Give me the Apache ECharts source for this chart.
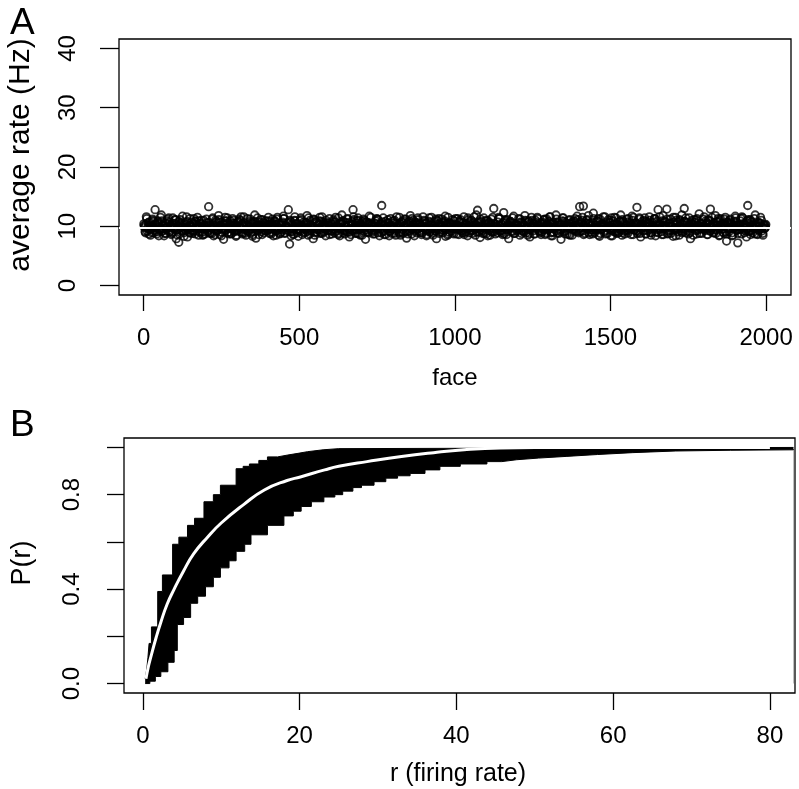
<!DOCTYPE html>
<html><head><meta charset="utf-8">
<script src="https://cdn.jsdelivr.net/npm/echarts@6/dist/echarts.min.js"></script>
<style>html,body{margin:0;padding:0;background:#fff}#c{width:799px;height:789px}</style>
</head><body><div id="c"></div>
<script>
// ---------- Panel A data (average rate per face) ----------
// faces 1,5,9,... (every 4th id, starting at 1)
const rateSetA = [
10.4,9.1,11.6,9.8,8.7,10.2,9.5,11.2,8.9,12.8,9.9,10.7,8.4,9.6,11.9,9.3,10.1,8.8,9.7,10.9,11.4,9.2,8.6,10.5,9.9,11.1,7.9,9.5,7.3,10.3,9.8,11.7,8.9,9.4,10.6,8.2,9.7,11.3,10.0,8.8,9.1,10.8,9.6,11.5,8.5,9.9,10.4,9.0,11.0,8.7,
9.6,10.2,13.3,8.9,9.8,11.2,8.4,10.6,9.3,9.9,11.8,8.6,10.1,9.5,7.8,10.9,9.7,11.4,9.0,10.3,8.8,9.6,11.0,10.5,8.3,9.2,10.8,9.9,11.6,8.7,10.0,9.4,8.5,11.3,9.8,10.4,8.9,9.1,10.7,11.9,8.0,9.7,10.2,9.5,11.1,8.6,10.6,9.3,9.9,10.1,
11.5,8.8,9.6,10.3,8.4,10.9,9.2,11.2,9.8,8.7,10.5,9.4,11.7,8.9,10.0,9.7,12.8,7.0,10.8,9.1,8.6,11.0,9.9,10.4,8.3,9.5,11.4,10.1,8.9,9.8,10.6,11.8,8.5,9.3,10.2,9.6,7.9,11.1,10.7,9.0,9.4,10.9,8.8,11.6,9.7,10.3,8.4,9.9,10.5,11.3,
9.2,8.7,10.8,9.5,11.5,10.0,8.6,9.8,10.4,11.9,8.9,9.3,10.6,9.1,11.2,8.2,9.7,10.3,12.8,9.6,8.8,10.9,11.4,9.4,8.5,10.1,9.9,11.0,7.8,10.7,9.0,11.7,9.6,10.2,8.7,9.3,10.5,11.3,8.9,9.8,10.4,13.5,9.1,8.6,10.8,9.7,11.1,8.4,10.0,9.5,
10.9,8.8,9.6,11.6,10.2,9.0,8.5,10.7,9.4,11.2,9.9,8.0,10.4,9.3,11.8,8.7,10.0,9.7,10.6,8.9,11.4,9.2,10.3,8.6,9.8,11.0,10.5,8.4,9.5,10.8,9.1,11.5,8.8,10.1,9.6,7.9,10.9,11.3,9.4,10.2,8.9,9.7,11.7,10.4,8.5,9.9,10.6,9.2,11.1,8.7,
10.0,9.5,11.3,8.6,10.7,9.8,8.9,11.6,10.3,9.1,8.4,10.5,9.7,11.0,8.8,10.1,9.4,11.9,12.7,9.6,8.1,10.8,9.3,11.4,10.2,8.7,9.9,10.6,8.5,11.2,9.0,13.0,10.4,9.6,8.9,11.5,10.0,9.2,8.6,12.3,10.9,9.4,11.1,7.9,9.8,10.5,9.1,11.7,8.8,10.2,
9.7,11.3,8.5,10.6,9.3,10.1,11.8,8.9,9.5,10.8,8.2,9.9,11.0,10.4,8.7,9.6,11.5,10.0,9.2,8.6,10.7,9.4,11.2,8.8,10.3,9.8,11.6,8.4,10.5,9.0,9.7,11.9,8.9,10.2,9.5,7.8,10.9,11.4,9.1,10.6,8.7,9.9,11.1,10.0,8.5,9.6,10.8,9.3,11.7,10.4,
13.3,9.2,11.0,13.4,8.8,10.5,9.7,11.8,8.6,10.1,9.4,12.2,8.9,10.7,9.8,11.3,8.3,10.2,9.5,11.6,10.0,8.7,9.9,11.1,10.6,8.4,9.3,10.9,11.5,9.0,8.8,10.3,9.6,11.9,8.5,10.8,9.2,10.0,11.2,8.9,9.7,10.4,11.7,8.6,9.4,10.6,13.2,9.1,11.4,8.2,
10.3,9.8,11.0,8.7,10.5,9.3,11.6,8.9,10.1,9.6,11.3,8.4,10.8,12.8,9.5,10.2,8.6,11.8,9.9,10.7,12.9,8.8,9.4,11.2,10.0,8.3,9.7,11.5,10.4,9.1,8.5,10.9,11.9,9.6,13.0,8.9,10.6,9.2,11.4,7.9,10.3,9.8,11.1,10.7,8.7,9.5,12.1,10.0,8.8,9.9,
11.6,9.3,10.5,8.6,11.0,12.9,9.7,10.2,8.9,11.8,9.4,10.8,8.4,11.3,10.0,9.6,8.8,11.5,7.5,10.6,9.1,11.2,10.4,8.5,9.9,11.7,10.1,7.2,9.5,10.9,8.7,11.4,9.8,10.3,8.2,13.5,9.2,11.1,10.7,8.9,9.6,11.9,10.0,8.6,9.3,10.5,11.0,8.8,9.7,10.2
];
// faces 2,6,10,... (every 4th id, starting at 2)
const rateSetC = [
10.1,8.9,11.3,9.6,10.7,8.5,9.9,11.0,9.3,10.4,8.7,10.9,9.5,11.5,9.1,10.2,8.4,10.6,9.8,11.2,9.0,10.0,8.8,11.4,9.7,10.5,8.6,9.4,10.8,11.1,9.2,10.3,8.3,9.9,11.6,9.6,10.1,8.9,10.7,9.3,11.3,8.7,10.4,9.8,10.9,9.0,11.0,8.5,10.2,9.5,
11.2,9.1,10.6,8.8,9.7,11.4,10.0,8.6,10.8,9.4,11.1,9.9,8.4,10.3,9.2,11.5,10.5,8.9,9.6,10.9,8.7,11.3,10.1,9.3,8.5,10.7,9.8,11.0,9.0,10.4,11.6,8.8,9.5,10.2,9.1,11.2,10.6,8.3,9.9,10.8,9.4,11.4,8.6,10.0,9.7,11.1,8.9,10.5,9.2,10.9,
9.4,10.8,8.7,11.2,9.9,10.3,8.5,11.5,9.6,10.0,9.0,10.7,11.3,8.8,9.8,10.5,9.2,11.0,8.4,10.2,9.7,11.6,10.4,8.9,9.3,10.9,11.1,8.6,10.1,9.5,10.6,9.1,11.4,8.7,10.0,9.8,11.2,8.5,10.8,9.4,10.3,11.5,9.0,8.8,10.7,9.6,11.0,9.3,10.2,8.6,
10.5,9.2,11.1,8.9,10.0,9.7,11.4,8.4,10.6,9.5,10.9,8.7,9.9,11.3,10.2,9.0,8.6,10.8,11.6,9.4,10.1,8.8,11.0,9.6,10.4,8.5,11.2,9.8,10.7,9.1,8.9,10.3,11.5,9.3,10.0,8.7,10.9,9.7,11.1,8.4,10.5,9.5,11.4,10.2,8.6,9.9,10.6,9.2,11.3,8.8,
9.6,11.0,8.5,10.4,9.9,11.5,9.1,10.7,8.8,10.1,11.2,9.4,8.7,10.9,9.7,11.3,10.3,8.4,9.5,10.6,11.1,9.0,10.0,8.9,11.6,9.8,10.5,8.6,9.3,11.4,10.2,9.6,8.5,10.8,9.2,11.0,10.4,8.8,9.9,11.2,9.4,10.7,8.3,10.1,11.5,9.0,10.3,9.7,8.9,10.9,
11.3,8.7,10.0,9.5,11.1,9.2,10.6,8.6,10.3,9.9,11.4,8.9,10.8,9.3,10.1,11.6,8.5,9.7,10.5,9.0,11.2,10.2,8.8,9.6,10.9,11.0,8.4,9.8,10.4,9.1,11.5,10.0,8.7,9.4,10.7,11.3,9.2,8.9,10.6,9.7,11.1,8.6,10.3,9.5,10.8,9.9,11.4,8.8,10.1,9.3,
10.2,9.6,11.2,8.8,10.5,9.1,11.0,9.8,8.5,10.9,9.4,11.5,10.1,8.7,9.9,10.6,11.3,9.2,8.9,10.4,9.7,11.1,8.6,10.0,9.5,10.8,11.6,9.0,8.4,10.3,9.8,11.2,10.7,8.8,9.3,10.5,11.4,9.6,8.7,10.1,9.9,11.0,8.5,10.6,9.4,10.9,11.3,9.1,10.2,8.9,
9.1,10.7,11.5,8.6,10.2,9.8,11.1,8.9,10.5,9.4,8.7,11.3,10.0,9.7,10.8,8.5,11.2,9.5,10.3,9.0,11.6,10.1,8.8,9.9,10.6,11.0,8.4,9.6,10.4,11.4,9.2,8.9,10.9,9.8,11.1,10.2,8.7,9.3,10.7,11.3,9.6,8.6,10.0,11.5,9.4,10.5,8.8,9.9,11.2,10.3,
10.8,9.3,11.4,8.7,9.9,10.6,11.0,8.5,10.2,9.7,11.3,9.0,10.4,8.9,11.6,9.5,10.1,8.6,10.9,9.8,11.2,9.2,10.5,8.8,10.0,11.5,9.4,8.4,10.7,9.6,11.1,10.3,8.9,9.1,10.8,11.4,9.7,8.7,10.2,9.9,11.0,8.5,10.6,9.3,11.3,10.0,8.8,9.6,10.4,11.2,
9.5,10.9,8.6,11.1,10.3,9.2,11.5,8.9,10.0,9.7,10.7,11.3,8.5,9.8,10.5,9.0,11.2,10.2,8.7,9.6,11.0,10.6,8.4,9.9,10.8,11.4,9.3,8.8,10.1,9.5,11.6,10.4,8.9,9.7,10.9,11.1,9.1,8.6,10.3,9.9,11.3,10.0,8.7,9.4,10.6,11.5,9.2,8.5,10.2,9.8
];
// faces 3,7,11,... (every 4th id, starting at 3)
const rateSetB = [
9.8,10.3,9.2,10.6,9.5,10.0,8.9,10.8,9.7,10.2,9.1,10.5,9.9,9.4,10.9,9.6,10.1,8.8,10.4,9.3,10.7,9.8,9.0,10.2,9.6,11.1,9.4,10.0,8.7,10.6,9.9,9.2,10.3,9.7,10.8,9.5,8.9,10.1,9.8,10.4,9.3,10.9,9.6,10.0,9.1,10.5,9.7,8.6,10.2,9.9,
10.6,9.4,10.0,9.7,8.8,10.3,9.5,11.0,9.2,10.1,9.8,10.7,9.0,9.6,10.4,9.3,10.9,9.9,8.7,10.2,9.6,10.5,9.1,9.8,10.0,9.4,11.2,9.7,10.3,8.9,10.6,9.5,10.1,9.2,9.9,10.8,9.6,8.6,10.4,9.8,10.0,9.3,10.7,9.7,9.1,10.2,9.5,10.9,9.8,9.4,
9.7,10.4,9.0,10.1,9.6,10.8,9.3,9.9,10.5,8.8,10.2,9.7,11.3,9.4,10.0,9.8,10.6,9.1,10.3,9.5,8.7,10.9,9.9,9.6,10.4,9.2,10.1,9.8,10.7,9.0,9.5,10.3,9.7,11.0,9.3,10.0,9.8,8.9,10.5,9.6,10.2,9.4,10.8,9.7,9.1,10.1,9.9,10.6,9.3,10.0,
10.3,9.5,9.9,10.7,9.2,10.0,8.8,10.4,9.7,10.9,9.4,10.1,9.8,9.0,10.6,9.6,10.2,9.3,11.1,9.9,9.5,10.5,8.7,10.0,9.7,10.8,9.2,10.3,9.8,9.4,10.6,9.6,10.1,9.0,9.9,10.4,9.5,11.2,9.7,10.0,8.9,10.7,9.3,10.2,9.8,9.6,10.5,9.1,10.0,9.7,
9.9,10.6,9.3,10.1,9.7,8.8,10.4,9.5,10.9,9.8,10.2,9.1,10.7,9.6,10.0,9.4,11.0,9.8,9.2,10.3,9.6,10.5,8.9,10.1,9.7,10.8,9.4,9.9,10.2,9.0,10.6,9.7,10.0,9.3,11.2,9.8,9.5,10.4,9.1,10.0,9.7,10.9,9.4,10.2,8.7,10.5,9.8,10.1,9.6,10.3,
9.6,10.2,9.9,10.8,9.3,10.0,9.7,8.9,10.5,9.5,11.1,9.8,10.1,9.2,10.6,9.7,10.3,9.0,9.9,10.7,9.4,10.0,9.8,8.8,10.4,9.6,10.9,9.3,10.2,9.7,10.5,9.1,9.9,10.0,9.6,11.3,9.4,10.3,9.8,8.7,10.6,9.5,10.1,9.9,10.8,9.2,10.0,9.7,10.4,9.5,
10.1,9.4,10.7,9.8,9.1,10.3,9.6,10.9,9.9,8.8,10.5,9.7,10.0,9.3,11.0,9.8,10.2,9.5,10.6,9.0,9.9,10.4,9.6,11.2,9.4,10.1,9.8,8.9,10.7,9.7,10.0,9.2,10.5,9.9,10.3,9.5,9.8,10.8,9.3,10.1,9.7,8.6,10.4,9.9,10.6,9.4,10.0,9.8,11.1,9.6,
9.8,10.5,9.2,10.1,9.9,11.0,9.5,10.3,9.7,9.0,10.6,9.8,10.2,9.4,10.9,9.6,8.8,10.4,9.9,10.0,9.3,10.7,9.7,10.1,9.5,11.4,9.8,9.1,10.3,9.6,10.0,9.9,10.8,9.4,8.9,10.5,9.7,10.2,9.8,9.3,10.6,9.5,11.0,9.9,10.1,9.2,10.4,9.7,8.8,10.0,
10.4,9.7,9.3,10.8,9.9,10.1,9.5,8.9,10.6,9.8,11.2,9.4,10.0,9.7,10.3,9.1,10.9,9.6,10.2,9.9,8.7,10.5,9.8,10.0,9.3,10.7,9.6,11.0,9.5,10.1,9.9,9.2,10.4,9.7,10.8,9.4,10.0,9.8,8.9,10.6,9.6,10.3,9.9,11.1,9.3,10.1,9.7,10.5,9.5,10.0,
9.9,10.3,9.6,10.9,9.2,10.0,9.8,10.6,9.4,8.8,10.2,9.7,11.0,9.9,10.4,9.5,10.1,9.1,10.7,9.8,9.6,10.3,8.9,10.0,9.7,10.8,9.4,10.2,9.9,11.3,9.5,10.0,9.8,9.2,10.5,9.6,10.9,9.3,10.1,9.7,8.7,10.4,9.9,10.6,9.5,10.0,9.8,10.2,9.6,10.3
];
const faceStep = 4;
const faceStartA = 1, faceStartC = 2, faceStartB = 3;
const meanRate = 9.75;
const xTicksA = [0, 500, 1000, 1500, 2000];
const yTicksA = [0, 10, 20, 30, 40];

// ---------- Panel B data (empirical distributions) ----------
const upperR = [0.3,0.5,0.65,0.8,1.1,1.9,2.5,3.8,4.6,5.7,6.6,7.8,9.0,9.9,11.9,12.8,13.6,14.8,15.9,17.2,18.5,19.8,21.0,23.0,25.0,83.0];
const upperP = [0.02,0.06,0.11,0.17,0.24,0.39,0.46,0.59,0.62,0.67,0.70,0.77,0.80,0.84,0.91,0.92,0.93,0.945,0.96,0.968,0.975,0.982,0.99,0.995,1.0,1.0];
const lowerR = [0.3,0.9,1.6,2.3,3.2,4.0,4.4,5.2,6.1,7.0,8.0,9.0,9.9,11.0,11.9,13.0,13.8,15.9,18.0,19.2,20.2,21.5,23.1,24.5,25.5,26.8,27.9,29.5,31.0,32.5,34.1,36.0,37.9,40.5,43.9,45.8,47.7,50.5,54.0,58.0,62.5,68.0,75.0,83.0];
const lowerP = [0.0,0.01,0.03,0.05,0.09,0.14,0.25,0.28,0.34,0.37,0.41,0.45,0.49,0.52,0.56,0.59,0.63,0.67,0.71,0.73,0.75,0.77,0.79,0.80,0.815,0.83,0.84,0.855,0.87,0.88,0.89,0.905,0.92,0.93,0.94,0.948,0.955,0.962,0.97,0.978,0.985,0.988,0.99,0.993];
const whiteR = [0.4,0.7,1.0,1.7,2.3,3.1,4.0,5.2,6.5,8.2,10.0,12.9,15.5,18.4,20.1,23.2,25.0,28.6,33.0,37.1,41.0,45.6,50.0,80.0];
const whiteP = [0.02,0.07,0.11,0.195,0.26,0.336,0.40,0.477,0.55,0.618,0.68,0.759,0.82,0.86,0.875,0.905,0.92,0.94,0.962,0.978,0.99,0.998,1.0,1.0];
const xTicksB = [0, 20, 40, 60, 80];
const yTicksB = [0, 0.2, 0.4, 0.6, 0.8, 1.0];
const yLabelsB = [0, 0.4, 0.8];

const FONT = "'Liberation Sans', Arial, Helvetica, sans-serif";
const pairs = (a, b) => a.map((v, i) => [v, b[i]]);
const withFaces = (arr, start) => arr.map((v, i) => [start + i * faceStep, v]);
const scatterData = withFaces(rateSetA, faceStartA)
  .concat(withFaces(rateSetC, faceStartC))
  .concat(withFaces(rateSetB, faceStartB));

const tick = (vals, len) => ({show: true, inside: false, length: len, customValues: vals, lineStyle: {color: '#000', width: 1.3}});
const lab = (vals, extra) => Object.assign({show: true, customValues: vals, color: '#000', fontSize: 24, fontFamily: FONT, formatter: v => String(v)}, extra || {});
const noLine = {show: false, onZero: false};

const chart = echarts.init(document.getElementById('c'), null, {renderer: 'canvas'});
chart.setOption({
  animation: false,
  backgroundColor: '#fff',
  grid: [
    {left: 119, top: 39, width: 672, height: 256, show: true, borderColor: '#000', borderWidth: 1.3, backgroundColor: 'rgba(0,0,0,0)'},
    {left: 124, top: 438, width: 671, height: 255, show: true, borderColor: '#000', borderWidth: 1.3, backgroundColor: 'rgba(0,0,0,0)'}
  ],
  xAxis: [
    {gridIndex: 0, type: 'value', min: -79, max: 2080, axisLine: noLine, splitLine: {show: false},
     axisTick: tick(xTicksA, 16), axisLabel: lab(xTicksA, {margin: 31})},
    {gridIndex: 1, type: 'value', min: -2.4, max: 83.2, axisLine: noLine, splitLine: {show: false},
     axisTick: tick(xTicksB, 17), axisLabel: lab(xTicksB, {margin: 31})}
  ],
  yAxis: [
    {gridIndex: 0, type: 'value', min: -1.6, max: 41.6, axisLine: noLine, splitLine: {show: false},
     axisTick: tick(yTicksA, 19), axisLabel: lab(yTicksA, {rotate: 90, margin: 39})},
    {gridIndex: 1, type: 'value', min: -0.04, max: 1.04, axisLine: noLine, splitLine: {show: false},
     axisTick: tick(yTicksB, 17), axisLabel: lab(yLabelsB, {rotate: 90, margin: 40, formatter: v => Number(v).toFixed(1)})}
  ],
  graphic: [
    {type: 'text', left: 10, top: 5, style: {text: 'A', fontSize: 37, fill: '#000', fontFamily: FONT}},
    {type: 'text', left: 10, top: 407, style: {text: 'B', fontSize: 37, fill: '#000', fontFamily: FONT}},
    {type: 'text', x: 21, y: 155, rotation: Math.PI / 2, style: {text: 'average rate (Hz)', fontSize: 30, fill: '#000', fontFamily: FONT, textAlign: 'center', textVerticalAlign: 'middle'}},
    {type: 'text', x: 23, y: 563, rotation: Math.PI / 2, style: {text: 'P(r)', fontSize: 27, fill: '#000', fontFamily: FONT, textAlign: 'center', textVerticalAlign: 'middle'}},
    {type: 'text', x: 455, y: 378, style: {text: 'face', fontSize: 24, fill: '#000', fontFamily: FONT, textAlign: 'center', textVerticalAlign: 'middle'}},
    {type: 'text', x: 458, y: 774, style: {text: 'r (firing rate)', fontSize: 25, fill: '#000', fontFamily: FONT, textAlign: 'center', textVerticalAlign: 'middle'}}
  ],
  series: [
    {type: 'scatter', xAxisIndex: 0, yAxisIndex: 0, data: scatterData, symbol: 'circle', symbolSize: 7.5,
     itemStyle: {color: 'rgba(0,0,0,0)', borderColor: '#000', borderWidth: 1.8}, z: 2,
     markLine: {silent: true, symbol: 'none', label: {show: false}, lineStyle: {color: '#fff', width: 2, type: 'solid'},
       data: [{yAxis: meanRate}], z: 5}},
    {type: 'line', xAxisIndex: 1, yAxisIndex: 1, data: pairs(upperR, upperP), step: 'end', symbol: 'none',
     lineStyle: {color: '#000', width: 1}, areaStyle: {color: '#000', opacity: 1, origin: 0}, z: 2},
    {type: 'line', xAxisIndex: 1, yAxisIndex: 1, data: pairs(lowerR, lowerP), step: 'end', symbol: 'none',
     lineStyle: {color: '#000', width: 1}, areaStyle: {color: '#fff', opacity: 1, origin: -0.03}, z: 3},
    {type: 'line', xAxisIndex: 1, yAxisIndex: 1, data: pairs(whiteR, whiteP), smooth: true, symbol: 'none',
     lineStyle: {color: '#fff', width: 3}, z: 4}
  ]
});
</script></body></html>
